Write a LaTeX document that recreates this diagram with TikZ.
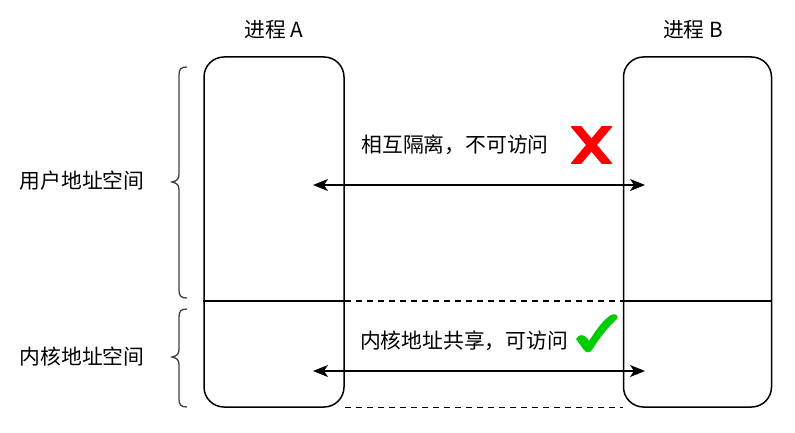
\documentclass[tikz,border=0pt]{standalone}
\usepackage{fontspec}
\setmainfont{Noto Sans CJK SC}
\usetikzlibrary{arrows.meta}
\begin{document}
\begin{tikzpicture}[x=1pt,y=-1pt,
  proc/.style={draw=black,line width=1.5pt,rounded corners=20pt,minimum width=#1,minimum height=350pt,inner sep=0pt},
  lbl/.style={font=\fontsize{20.8pt}{24pt}\selectfont,inner sep=0pt,anchor=center},
  conn/.style={line width=1.5pt,{Stealth[length=15pt,width=12pt,inset=4pt]}-{Stealth[length=15pt,width=12pt,inset=4pt]}},
  sep/.style={line width=1.5pt},
  dsep/.style={line width=1.2pt,dash pattern=on 6pt off 5pt},
  brc/.style={line width=1.3pt,draw=black!75}]
\useasboundingbox (0,0) rectangle (795,433);
% process boxes
\node[proc=140pt] (A) at (274,232) {};
\node[proc=148pt] (B) at (697.5,232) {};
% titles
\node[lbl] (tA) at (274,30) {进程 A};
\node[lbl] (tB) at (693,30) {进程 B};
% separator coordinates
\coordinate (sAl) at (A.west |- 0,301);
\coordinate (sAr) at (A.east |- 0,301);
\coordinate (sBl) at (B.west |- 0,301);
\coordinate (sBr) at (B.east |- 0,301);
\draw[sep] (sAl) -- (sAr);
\draw[dsep] (sAr) -- (sBl);
\draw[sep] (sBl) -- (sBr);
\draw[dsep] (A.south east) -- (B.south west);
% arrows
\coordinate (u1) at (313,185);
\coordinate (u2) at (645,185);
\coordinate (k1) at (313,371);
\coordinate (k2) at (645,371);
\draw[conn] (u1) -- (u2);
\draw[conn] (k1) -- (k2);
% texts
\node[lbl] (t1) at (455,145) {相互隔离，不可访问};
\node[lbl] (t2) at (464,341) {内核地址共享，可访问};
\node[lbl] (l1) at (82,181) {用户地址空间};
\node[lbl] (l2) at (82,357) {内核地址空间};
% red cross
\begin{scope}
\clip (570,127) rectangle (612,163);
\draw[red,line width=8.5pt] (574,124) -- (609,166);
\draw[red,line width=8.5pt] (609,124) -- (574,166);
\end{scope}
% green check
\fill[green!80!black] (576,339) .. controls (579,334) and (583,334) .. (587,338)
  -- (589,341) .. controls (596,330) and (603,320) .. (611,315)
  .. controls (615,313) and (619,315) .. (617,319)
  .. controls (607,328) and (598,340) .. (592,350)
  .. controls (590,353) and (586,353) .. (584,350)
  -- cycle;
% braces
\draw[brc] (187,67) .. controls (181,67) and (179,69) .. (179,75)
  -- (179,174) .. controls (179,179) and (177,181) .. (172,182)
  .. controls (177,183) and (179,185) .. (179,190)
  -- (179,290) .. controls (179,296) and (181,298) .. (187,298);
\draw[brc] (187,309) .. controls (181,309) and (179,311) .. (179,317)
  -- (179,349) .. controls (179,354) and (177,356) .. (172,357)
  .. controls (177,358) and (179,360) .. (179,365)
  -- (179,399) .. controls (179,405) and (181,407) .. (187,407);
\end{tikzpicture}
\end{document}
